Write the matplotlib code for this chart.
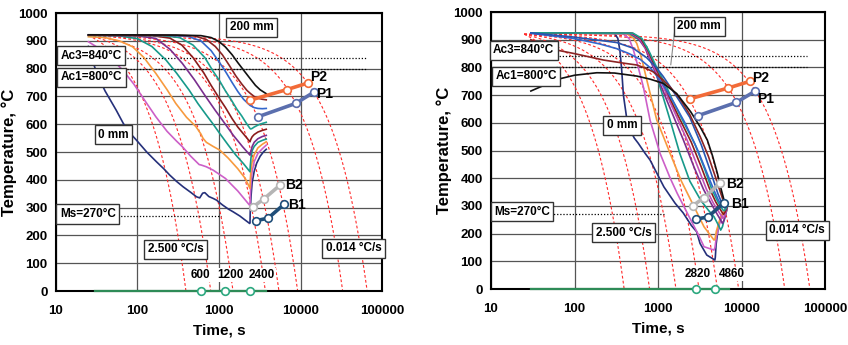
import matplotlib
matplotlib.use('Agg')
import matplotlib.pyplot as plt
import numpy as np

plt.rcParams['font.family'] = ['Liberation Sans', 'DejaVu Sans']
plt.rcParams['font.weight'] = 'bold'

# ---- data -------------------------------------------------------------
T_start = 920
t_start = 25
rates_left = [2.5, 1.2, 0.63, 0.25, 0.17, 0.1, 0.028, 0.014]
rates_right = [2.5, 1.2, 0.57, 0.3, 0.18, 0.1, 0.028, 0.014]

# left panel cooling curves (time s, temperature C), 0 mm -> 200 mm
left_colors = ['#25307a', '#cc5fc8', '#f79a3e', '#17998a', '#7a2e8e',
               '#8b1c1c', '#1aa090', '#3366cc', '#8b2424', '#111111']
left_t = [
    [25, 28, 32, 40, 55, 67, 80, 97, 130, 171, 210, 249, 300, 363, 450, 530, 580, 630, 670, 750,
     850, 933, 1100, 1300, 1490, 1800, 2100, 2380, 2400, 2420, 2470, 2550, 2700, 2900, 3200, 3500, 3800],
    [25, 35, 50, 66, 90, 120, 168, 230, 300, 356, 450, 571, 610, 700, 847, 1200, 1700, 2400,
     2420, 2470, 2550, 2700, 3000, 3400, 3800],
    [25, 40, 60, 87, 120, 168, 230, 295, 400, 520, 600, 638, 700, 850, 1023, 1300, 1700, 2100, 2400,
     2420, 2470, 2550, 2700, 3000, 3400, 3800],
    [25, 60, 100, 150, 224, 300, 430, 550, 700, 850, 1020, 1300, 1600, 2000, 2400,
     2420, 2470, 2550, 2700, 3000, 3400, 3800],
    [25, 100, 168, 250, 355, 500, 689, 900, 1100, 1500, 1950, 2400, 2450, 2550, 2700, 3000, 3400, 3800],
    [25, 150, 250, 350, 480, 650, 800, 1000, 1200, 1450, 1700, 2000, 2400, 2450, 2550, 2700, 3000, 3400, 3800],
    [25, 200, 330, 480, 670, 850, 1000, 1200, 1400, 1650, 1900, 2150, 2400, 2450, 2550, 2700, 3000, 3400, 3800],
    [25, 250, 420, 600, 800, 1000, 1200, 1450, 1700, 2000, 2400, 2700, 3000, 3400, 3800],
    [25, 300, 500, 700, 900, 1100, 1350, 1600, 1900, 2200, 2400, 2700, 3000, 3400, 3800],
    [25, 300, 600, 800, 1000, 1200, 1450, 1700, 2000, 2400, 2800, 3200, 3800],
]
left_T = [
    [880, 830, 780, 720, 650, 603, 570, 543, 500, 465, 440, 417, 395, 375, 355, 339, 335, 352, 354, 340,
     333, 327, 310, 295, 285, 270, 255, 243, 245, 290, 340, 390, 430, 460, 485, 500, 510],
    [897, 870, 830, 795, 745, 690, 627, 575, 540, 519, 485, 455, 453, 447, 435, 405, 360, 307,
     340, 390, 430, 465, 495, 512, 525],
    [915, 912, 900, 879, 840, 783, 725, 675, 625, 592, 565, 549, 535, 520, 507, 478, 440, 405, 369,
     400, 435, 465, 490, 515, 528, 537],
    [920, 918, 908, 880, 831, 785, 723, 675, 633, 600, 567, 525, 490, 458, 429,
     450, 480, 505, 520, 535, 542, 547],
    [921, 918, 909, 870, 819, 760, 699, 650, 615, 560, 519, 489, 500, 520, 535, 548, 556, 560],
    [921, 919, 910, 885, 840, 785, 740, 695, 660, 620, 590, 565, 537, 545, 555, 563, 572, 578, 582],
    [921, 919, 912, 885, 840, 790, 760, 720, 690, 655, 630, 605, 585, 583, 585, 590, 597, 603, 607],
    [921, 920, 916, 900, 865, 825, 790, 750, 718, 690, 668, 660, 657, 656, 657],
    [921, 920, 918, 905, 880, 850, 810, 775, 745, 722, 712, 700, 694, 690, 688],
    [922, 921, 919, 912, 898, 878, 850, 822, 795, 765, 740, 724, 710],
]

# right panel cooling curves
right_colors = ['#25307a', '#cc5fc8', '#f79a3e', '#17998a', '#7a2e8e', '#c050b8',
                '#8b1c1c', '#1aa090', '#3366cc', '#2855b0', '#8b2424', '#111111']
right_t = [
    [30, 300, 330, 350, 367, 385, 420, 462, 520, 581, 700, 802, 1000, 1175, 1600, 2000, 2500, 2900,
     3180, 3830, 4790, 4850, 4950, 5300, 6000, 6600],
    [30, 380, 450, 507, 580, 667, 802, 1057, 1400, 1700, 2470, 3000, 3550, 4680, 4800, 5000, 5600, 6600],
    [30, 420, 500, 556, 640, 733, 966, 1394, 1900, 2470, 3550, 4680, 4800, 5000, 5600, 6600],
    [30, 450, 560, 650, 733, 880, 1057, 1394, 1820, 2400, 3240, 4000, 4680, 5300, 5620, 5900, 6300, 6700],
    [30, 470, 580, 700, 850, 1000, 1200, 1500, 2000, 2700, 3500, 4300, 5000, 5600, 5900, 6200, 6700],
    [30, 480, 600, 730, 900, 1080, 1300, 1650, 2250, 3000, 3800, 4600, 5300, 5800, 6000, 6300, 6700],
    [30, 490, 620, 760, 950, 1150, 1380, 1780, 2500, 3300, 4100, 4900, 5500, 5900, 6100, 6400, 6700],
    [30, 500, 640, 790, 1000, 1220, 1460, 1900, 2750, 3600, 4400, 5200, 5700, 6000, 6200, 6500, 6750],
    [30, 97, 200, 320, 450, 608, 800, 1000, 1250, 1600, 2100, 3000, 3900, 4700, 5300, 5900, 6300, 6600, 6800],
    [30, 97, 320, 500, 733, 950, 1150, 1400, 1800, 2400, 3300, 4300, 5200, 5900, 6300, 6500, 6800],
    [30, 61, 100, 221, 400, 556, 700, 880, 1100, 1390, 1800, 2400, 3200, 4000, 4800, 5500, 6100, 6500, 6800],
    [30, 64, 100, 185, 300, 556, 800, 1150, 1670, 2460, 3200, 3890, 4500, 5130, 5700, 6170, 6500, 6700],
]
right_T = [
    [925, 924, 905, 860, 791, 700, 620, 574, 545, 526, 490, 466, 410, 369, 310, 275, 230, 207,
     165, 123, 105, 115, 160, 230, 275, 295],
    [925, 922, 905, 863, 800, 730, 610, 490, 400, 345, 249, 200, 153, 141, 150, 190, 250, 292],
    [925, 922, 908, 887, 830, 755, 610, 490, 390, 321, 225, 177, 180, 210, 260, 296],
    [925, 923, 905, 890, 875, 810, 730, 610, 490, 390, 321, 285, 261, 230, 213, 225, 260, 290],
    [925, 923, 905, 870, 810, 760, 700, 630, 540, 440, 360, 310, 275, 250, 237, 250, 290],
    [925, 923, 905, 865, 800, 750, 695, 625, 535, 440, 360, 310, 280, 262, 255, 265, 292],
    [925, 924, 905, 860, 795, 745, 690, 620, 530, 440, 365, 315, 290, 275, 270, 280, 295],
    [925, 924, 905, 855, 790, 740, 688, 618, 525, 435, 360, 315, 295, 285, 283, 290, 300],
    [923, 905, 885, 868, 850, 830, 800, 765, 720, 665, 600, 500, 415, 355, 320, 300, 293, 298, 305],
    [925, 910, 890, 870, 835, 800, 768, 730, 680, 620, 520, 420, 345, 305, 300, 302, 308],
    [900, 863, 850, 827, 815, 809, 798, 784, 760, 730, 690, 630, 550, 480, 410, 355, 315, 305, 308],
    [715, 758, 772, 781, 780, 769, 758, 743, 706, 640, 585, 538, 480, 418, 360, 321, 305, 305],
]

# transformation start / finish points
P2_t_left = [2430, 6840, 12500]
P2_T_left = [687, 725, 749]
P1_t_left = [3010, 8730, 14500]
P1_T_left = [627, 675, 715]
B2_t_left = [2620, 3540, 5560]
B2_T_left = [303, 331, 380]
B1_t_left = [2820, 4000, 6280]
B1_T_left = [253, 262, 312]
hold_left = [600, 1200, 2400]

P2_t_right = [2415, 6950, 12530]
P2_T_right = [687, 726, 750]
P1_t_right = [3010, 8670, 14600]
P1_T_right = [626, 674, 715]
B2_t_right = [2600, 3560, 5480]
B2_T_right = [301, 330, 382]
B1_t_right = [2850, 3940, 6170]
B1_T_right = [253, 260, 312]
hold_right = [2820, 4860]

Ac3 = 840
Ac1 = 800
Ms = 270

fig = plt.figure(figsize=(8.48, 3.45), dpi=100)
ax1 = fig.add_axes([0.066, 0.1565, 0.3845, 0.8055])
ax2 = fig.add_axes([0.579, 0.162, 0.394, 0.803])


def boxed(ax, x, y, s):
    ax.text(x, y, s, ha='center', va='center', fontsize=8.5, fontweight='bold', zorder=6,
            bbox=dict(boxstyle='square,pad=0.3', fc='white', ec='#333333', lw=1.0))


def setup(ax):
    ax.set_xscale('log')
    ax.set_xlim(10, 100000)
    ax.set_ylim(0, 1000)
    ax.set_yticks(range(0, 1001, 100))
    ax.set_xticks([10, 100, 1000, 10000, 100000])
    ax.set_xticklabels(['10', '100', '1000', '10000', '100000'])
    ax.minorticks_off()
    ax.tick_params(length=0, labelsize=9.5, pad=10)
    ax.tick_params(axis='y', pad=6)
    for lab in ax.get_xticklabels() + ax.get_yticklabels():
        lab.set_fontweight('bold')
    ax.grid(True, color='#555555', lw=0.9)
    ax.set_axisbelow(True)
    for s in ax.spines.values():
        s.set_linewidth(1.5)
        s.set_color('black')
    ax.set_xlabel('Time, s', fontsize=11, fontweight='bold', labelpad=5)
    ax.set_ylabel('Temperature, °C', fontsize=12, fontweight='bold')
    ax.yaxis.set_label_coords(-0.118, 0.5)


def draw(ax, rates, ts, Ts, colors, P2, P1, B2, B1, hold, tend):
    setup(ax)
    # constant cooling-rate reference lines
    for r in rates:
        tt = np.geomspace(t_start, t_start + T_start / r, 300)
        ax.plot(tt, T_start - r * (tt - t_start), color='#ff2a2a', lw=0.8,
                ls=(0, (2.5, 2)), zorder=2)
    ax.plot([t_start + 5, tend], [0, 0], color='#2e8b57', lw=1.6, zorder=3, clip_on=False)
    for t, T, c in zip(ts, Ts, colors):
        ax.plot(t, T, color=c, lw=1.2, zorder=3)
    for (t, T), c in zip([P2, P1, B2, B1], ['#f26b38', '#5b6fae', '#b5b5b5', '#1f4e79']):
        ax.plot(t, T, color=c, lw=2.6, marker='o', ms=5.5, mfc='white', mec=c, mew=1.2, zorder=5)
    ax.plot(hold, [0] * len(hold), ls='none', marker='o', ms=5.5, mfc='white',
            mec='#2ca87f', mew=1.2, zorder=5, clip_on=False)


draw(ax1, rates_left, left_t, left_T, left_colors,
     (P2_t_left, P2_T_left), (P1_t_left, P1_T_left),
     (B2_t_left, B2_T_left), (B1_t_left, B1_T_left), hold_left, 3800)
draw(ax2, rates_right, right_t, right_T, right_colors,
     (P2_t_right, P2_T_right), (P1_t_right, P1_T_right),
     (B2_t_right, B2_T_right), (B1_t_right, B1_T_right), hold_right, 7000)

# left annotations
dots = (0, (1, 1.5))
ax1.plot([40, 66000], [Ac3, Ac3], color='black', lw=0.9, ls=dots, zorder=2)
ax1.plot([40, 66000], [Ac1, Ac1], color='black', lw=0.9, ls=dots, zorder=2)
ax1.plot([40, 1070], [Ms, Ms], color='black', lw=0.9, ls=dots, zorder=2)
boxed(ax1, 27, 846, 'Ac3=840°C')
boxed(ax1, 27.5, 769, 'Ac1=800°C')
boxed(ax1, 51, 563, '0 mm')
boxed(ax1, 2500, 949, '200 mm')
boxed(ax1, 24.5, 277, 'Ms=270°C')
boxed(ax1, 295, 150, '2.500 °C/s')
boxed(ax1, 45000, 153, '0.014 °C/s')
for x, y, s in [(13000, 769, 'P2'), (15500, 709, 'P1'), (6500, 381, 'B2'), (7000, 309, 'B1')]:
    ax1.text(x, y, s, ha='left', va='center', fontsize=10, fontweight='bold', zorder=6)
for x, s in zip([590, 1370, 3370], ['600', '1200', '2400']):
    ax1.text(x, 57, s, ha='center', va='center', fontsize=8.5, fontweight='bold', zorder=6,
             bbox=dict(boxstyle='square,pad=0.1', fc='white', ec='none'))

# right annotations
ax2.plot([60, 60000], [Ac3, Ac3], color='black', lw=0.9, ls=dots, zorder=2)
ax2.plot([60, 60000], [Ac1, Ac1], color='black', lw=0.9, ls=dots, zorder=2)
ax2.plot([40, 1180], [Ms, Ms], color='black', lw=0.9, ls=dots, zorder=2)
ax2.plot([1600, 1420], [945, 810], color='#888888', lw=0.8, zorder=4)
boxed(ax2, 24.7, 862, 'Ac3=840°C')
boxed(ax2, 26.3, 769, 'Ac1=800°C')
boxed(ax2, 371, 592, '0 mm')
boxed(ax2, 3100, 949, '200 mm')
boxed(ax2, 23.5, 279, 'Ms=270°C')
boxed(ax2, 388, 204, '2.500 °C/s')
boxed(ax2, 46200, 213, '0.014 °C/s')
for x, y, s in [(13200, 761, 'P2'), (15500, 685, 'P1'), (6600, 378, 'B2'), (7600, 309, 'B1')]:
    ax2.text(x, y, s, ha='left', va='center', fontsize=10, fontweight='bold', zorder=6)
for x, s in zip([2950, 7550], ['2820', '4860']):
    ax2.text(x, 54, s, ha='center', va='center', fontsize=8.5, fontweight='bold', zorder=6,
             bbox=dict(boxstyle='square,pad=0.1', fc='white', ec='none'))

fig.savefig('out.png', dpi=100)
